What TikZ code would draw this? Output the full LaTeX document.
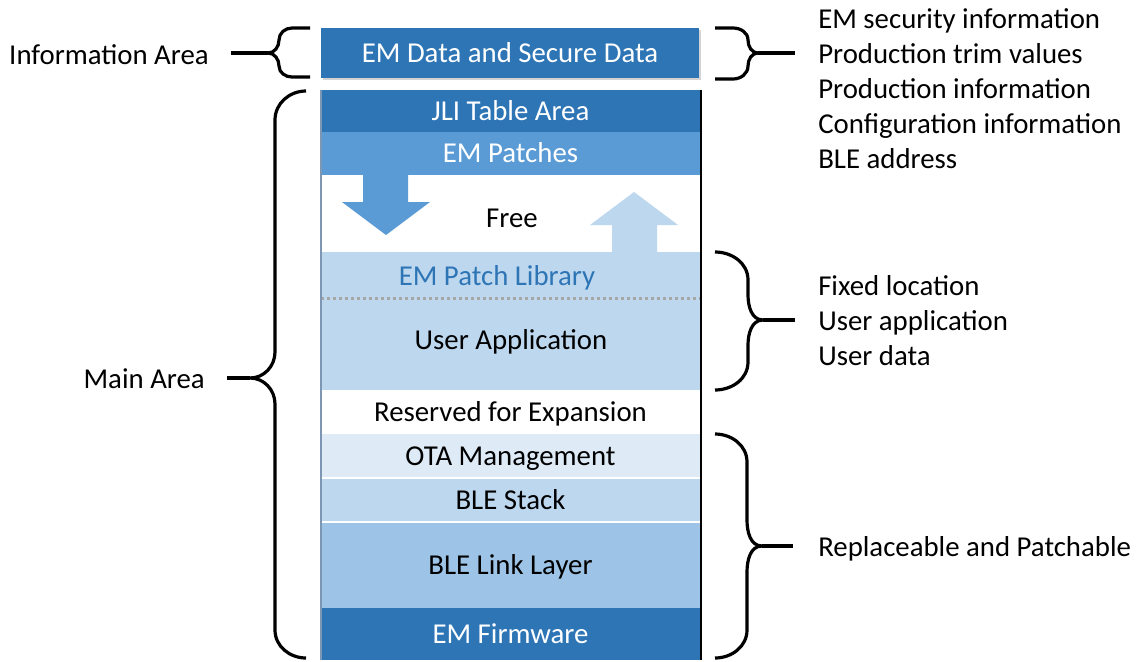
\documentclass[tikz,border=0pt]{standalone}
\usepackage{fontspec}
\setmainfont{Carlito}
\usepackage{tikz}
\usetikzlibrary{positioning,shadows}
\definecolor{navy}{RGB}{46,117,182}
\definecolor{sky}{RGB}{91,155,213}
\definecolor{pale}{RGB}{189,215,238}
\definecolor{mist}{RGB}{222,235,247}
\definecolor{haze}{RGB}{157,195,230}
\definecolor{dotgray}{RGB}{166,166,166}
\definecolor{rim}{RGB}{125,150,180}

\begin{document}
\begin{tikzpicture}[x=0.75pt,y=-0.75pt,node distance=0pt,band/.style={rectangle,inner sep=0pt,outer sep=0pt,minimum width=284.25pt,text height=19.3pt,text depth=5.4pt,font=\fontsize{21.6}{26.25}\selectfont},note/.style={align=left,inner sep=0pt,font=\fontsize{21.6}{26.25}\selectfont},brc/.style={draw=black,line width=2.4pt}]
\useasboundingbox (0,0) rectangle (1141,661);
\node[band,fill=navy,text=white,minimum width=283.5pt,minimum height=37.5pt,drop shadow={shadow xshift=1.5pt,shadow yshift=-1.5pt,opacity=0.35,fill=black!50}] (info) at (510,53) {EM Data and Secure Data};
\node[band,fill=navy,text=white,minimum height=31.5pt,anchor=north] (jli) at (510.5,90) {JLI Table Area};
\node[band,fill=sky,text=white,minimum height=32.25pt,below=of jli] (patches) {EM Patches};
\node[band,fill=white,minimum height=57.75pt,below=of patches] (free) {};
\node[band,fill=pale,minimum height=34.5pt,below=of free] (patchlib) {};
\node[band,fill=pale,minimum height=69pt,below=of patchlib] (userapp) {};
\node[band,fill=white,minimum height=33pt,below=of userapp] (reserved) {Reserved for Expansion};
\node[band,fill=mist,minimum height=33pt,below=of reserved] (ota) {OTA Management};
\node[band,fill=pale,minimum height=33pt,below=of ota] (blestack) {BLE Stack};
\node[band,fill=haze,minimum height=64.5pt,below=of blestack] (linklayer) {BLE Link Layer};
\node[band,fill=navy,text=white,minimum height=39pt,below=of linklayer] (firmware) {EM Firmware};
\fill[sky] (363,175) -- (408,175) -- (408,202) -- (430,202) -- (386,235) -- (342,202) -- (363,202) -- cycle;
\fill[pale] (612,252) -- (612,225) -- (590,225) -- (634,192) -- (678,225) -- (657,225) -- (657,252) -- cycle;
\node[band,fill=none,minimum width=0pt] (freetext) at (512,218) {Free};
\node[band,fill=none,minimum width=0pt,text=navy] (libtext) at (497,276) {EM Patch Library};
\node[band,fill=none,minimum width=0pt] (apptext) at (511,340) {User Application};
\draw[dotgray,line width=2.25pt,dash pattern=on 2.25pt off 2.25pt] (patchlib.south west) -- (patchlib.south east);
\draw[white,line width=0.9pt] (ota.south west) -- (ota.south east);
\draw[white,line width=0.9pt] (blestack.south west) -- (blestack.south east);
\draw[rim,line width=1pt] (jli.north west) -- (firmware.south west);
\draw[line width=1.9pt] ([xshift=0.75pt]jli.north east) -- ([xshift=0.75pt]firmware.south east);
\node[note,anchor=east] (infoarea) at (209,55) {Information Area};
\node[note,anchor=east] (mainarea) at (205,379) {Main Area};
\node[note,anchor=west] (infonote) at (818,89) {EM security information\\Production trim values\\Production information\\Configuration information\\BLE address};
\node[note,anchor=west] (fixednote) at (818,321) {Fixed location\\User application\\User data};
\node[note,anchor=west] (replnote) at (818,549) {Replaceable and Patchable};
\draw[brc] (310,28) -- (292,28) to[out=180,in=90] (279,40) to[out=-90,in=0] (268,53) coordinate (infotip) to[out=0,in=90] (279,66) to[out=-90,in=180] (292,77) -- (310,77);
\draw[brc] (infotip) -- ++(-37,0);
\draw[brc] (306,91) to[out=180,in=90] (275,120) -- (275,352) to[out=-90,in=0] (250,378) coordinate (maintip) to[out=0,in=90] (275,404) -- (275,630) to[out=-90,in=180] (306,658);
\draw[brc] (maintip) -- ++(-23,0);
\draw[brc] (715,28) -- (733,28) to[out=0,in=90] (748,40) to[out=-90,in=180] (758,53) coordinate (notetip) to[out=180,in=90] (748,66) to[out=-90,in=0] (733,79) -- (715,79);
\draw[brc] (notetip) -- ++(37,0);
\draw[brc] (715,252) to[out=0,in=90] (748,280) -- (748,295) to[out=-90,in=180] (763,320) coordinate (fixedtip) to[out=180,in=90] (748,345) -- (748,362) to[out=-90,in=0] (715,390);
\draw[brc] (fixedtip) -- ++(32,0);
\draw[brc] (715,434) to[out=0,in=90] (747,462) -- (747,520) to[out=-90,in=180] (762,546) coordinate (repltip) to[out=180,in=90] (747,572) -- (747,630) to[out=-90,in=0] (715,658);
\draw[brc] (repltip) -- ++(31,0);
\end{tikzpicture}
\end{document}
